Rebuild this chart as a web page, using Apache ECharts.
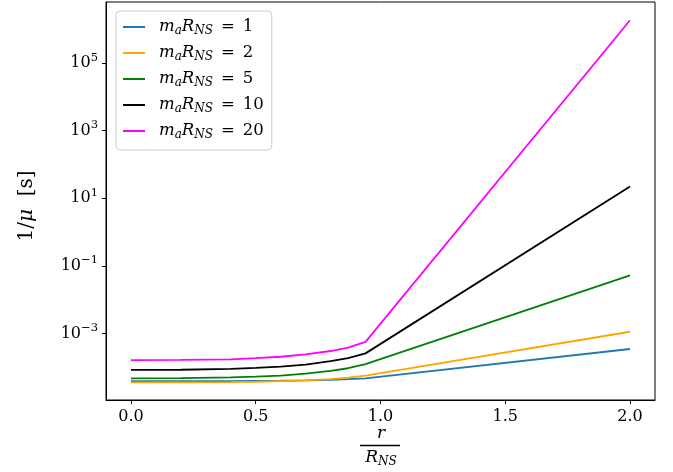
<!DOCTYPE html>
<html>
<head>
<meta charset="utf-8">
<script src="https://cdn.jsdelivr.net/npm/echarts@6/dist/echarts.min.js"></script>
<style>
  html, body { margin: 0; padding: 0; background: #fff; }
  #root { width: 673px; height: 472px; }
</style>
</head>
<body>
<div id="root"></div>
<script>
  // r / R_NS sample points
  var radius = [0, 0.2, 0.4, 0.5, 0.6, 0.7, 0.8, 0.87, 0.94, 2.0];

  // 1/mu [s] for each m_a R_NS
  var mass1 = [3.89e-5, 3.89e-5, 3.89e-5, 3.936e-5, 3.981e-5, 4.074e-5, 4.266e-5, 4.416e-5, 4.677e-5, 3.467e-4];
  var mass2 = [3.548e-5, 3.548e-5, 3.631e-5, 3.715e-5, 3.89e-5, 4.074e-5, 4.467e-5, 4.898e-5, 5.623e-5, 1.122e-3];
  var mass5 = [4.677e-5, 4.732e-5, 5.012e-5, 5.248e-5, 5.623e-5, 6.457e-5, 7.762e-5, 9.333e-5, 1.23e-4, 5.248e-2];
  var mass10 = [8.318e-5, 8.414e-5, 8.913e-5, 9.55e-5, 1.047e-4, 1.202e-4, 1.514e-4, 1.862e-4, 2.57e-4, 22.39];
  var mass20 = [1.622e-4, 1.641e-4, 1.718e-4, 1.862e-4, 2.042e-4, 2.399e-4, 3.02e-4, 3.802e-4, 5.623e-4, 1.862e6];

  var masses = ['1', '2', '5', '10', '20'];
  var curves = [mass1, mass2, mass5, mass10, mass20];
  var colors = ['#1f77b4', '#ffa500', '#008000', '#000000', '#ff00ff'];

  var xTicks = [0, 0.5, 1.0, 1.5, 2.0];
  var yTicks = [1e-3, 1e-1, 1e1, 1e3, 1e5];

  var FONT = '"DejaVu Serif", "Liberation Serif", serif';

  var series = masses.map(function (m, i) {
    return {
      name: m,
      type: 'line',
      showSymbol: false,
      symbol: 'none',
      lineStyle: { width: 1.8, color: colors[i] },
      itemStyle: { color: colors[i] },
      data: radius.map(function (r, j) { return [r, curves[i][j]]; })
    };
  });

  var chart = echarts.init(document.getElementById('root'));
  chart.setOption({
    animation: false,
    backgroundColor: '#fff',
    grid: {
      left: 106, right: 18, top: 2, bottom: 72,
      show: true, borderColor: '#000', borderWidth: 1, backgroundColor: 'transparent'
    },
    legend: {
      left: 116, top: 11,
      orient: 'vertical',
      icon: 'rect',
      itemWidth: 22, itemHeight: 2,
      itemGap: 6,
      padding: [6, 8, 9, 7],
      backgroundColor: 'rgba(255,255,255,0.8)',
      borderColor: '#cccccc', borderWidth: 1, borderRadius: 4,
      data: masses,
      formatter: function (name) {
        return '{sp|}{i|m}{s|a}{i|R}{s|NS}{eq|=}{t|' + name + '}';
      },
      textStyle: {
        fontFamily: FONT, fontSize: 16.5, color: '#000', lineHeight: 20,
        rich: {
          sp: { width: 9 },
          i: { fontFamily: FONT, fontSize: 16.5, fontStyle: 'italic', color: '#000' },
          s: { fontFamily: FONT, fontSize: 12, fontStyle: 'italic', color: '#000', padding: [7, 0, 0, 0] },
          eq: { fontFamily: FONT, fontSize: 16.5, color: '#000', padding: [0, 8, 0, 8] },
          t: { fontFamily: FONT, fontSize: 16.5, color: '#000' }
        }
      }
    },
    xAxis: {
      type: 'value',
      min: -0.1, max: 2.1,
      axisLine: { show: true, onZero: false, lineStyle: { color: '#000', width: 1 } },
      axisTick: { show: true, length: 4, inside: false, customValues: xTicks, lineStyle: { color: '#000' } },
      axisLabel: {
        customValues: xTicks, margin: 9,
        fontFamily: FONT, fontSize: 16, color: '#000',
        formatter: function (v) { return v.toFixed(1); }
      },
      splitLine: { show: false }
    },
    yAxis: {
      type: 'log',
      min: Math.pow(10, -4.97), max: Math.pow(10, 6.81),
      axisLine: { show: true, onZero: false, lineStyle: { color: '#000', width: 1 } },
      axisTick: { show: true, length: 4, inside: false, customValues: yTicks, lineStyle: { color: '#000' } },
      minorTick: { show: false },
      axisLabel: {
        customValues: yTicks, margin: 8,
        formatter: function (v) {
          var e = Math.round(Math.log10(v));
          return '{b|10}{e|' + (e < 0 ? '\u2212' + (-e) : e) + '}';
        },
        rich: {
          b: { fontFamily: FONT, fontSize: 16, color: '#000' },
          e: { fontFamily: FONT, fontSize: 11.5, color: '#000', padding: [0, 0, 11, 0] }
        }
      },
      splitLine: { show: false }
    },
    graphic: [
      {
        type: 'text', x: 27, y: 206, rotation: Math.PI / 2,
        style: {
          text: '{n|1/}{i|\u03bc}{n|  [s]}', align: 'center', verticalAlign: 'middle',
          rich: {
            n: { fontFamily: FONT, fontSize: 20, color: '#000' },
            i: { fontFamily: FONT, fontSize: 20, fontStyle: 'italic', color: '#000' }
          }
        }
      },
      {
        type: 'text', x: 381, y: 434,
        style: { text: 'r', fontFamily: FONT, fontSize: 17, fontStyle: 'italic', fill: '#000', align: 'center', verticalAlign: 'middle' }
      },
      {
        type: 'line', shape: { x1: 360, y1: 445.5, x2: 400, y2: 445.5 },
        style: { stroke: '#000', lineWidth: 1.5 }
      },
      {
        type: 'text', x: 381, y: 458,
        style: {
          text: '{i|R}{s|NS}', align: 'center', verticalAlign: 'middle',
          rich: {
            i: { fontFamily: FONT, fontSize: 17, fontStyle: 'italic', color: '#000' },
            s: { fontFamily: FONT, fontSize: 12, fontStyle: 'italic', color: '#000', padding: [7, 0, 0, 0] }
          }
        }
      }
    ],
    series: series
  });
</script>
</body>
</html>
